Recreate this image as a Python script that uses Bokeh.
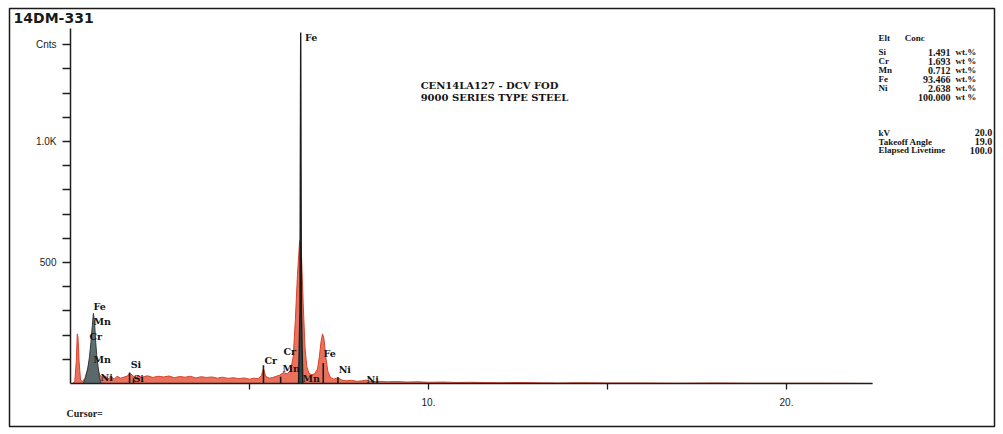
from bokeh.plotting import figure
from bokeh.models import Range1d, FixedTicker
from bokeh.core.properties import value
from bokeh.embed import file_html
from bokeh.resources import INLINE

# ---------------- data ----------------
red_kev = [0.05, 0.12, 0.16, 0.19, 0.21, 0.24, 0.28, 0.33, 0.40, 0.46,
           0.52, 0.58, 0.64, 0.70, 0.76, 0.82, 0.90, 0.98, 1.06, 1.14,
           1.22, 1.30, 1.40, 1.50, 1.58, 1.65, 1.72, 1.80, 1.90, 2.00,
           2.15, 2.30, 2.45, 2.60, 2.75, 2.90, 3.05, 3.20, 3.35, 3.50,
           3.65, 3.80, 3.95, 4.10, 4.25, 4.40, 4.55, 4.70, 4.85, 5.00,
           5.12, 5.24, 5.33, 5.39, 5.45, 5.55, 5.65, 5.75, 5.85, 5.95,
           6.05, 6.15, 6.22, 6.28, 6.34, 6.40, 6.45, 6.50, 6.55, 6.60,
           6.66, 6.74, 6.82, 6.90, 6.95, 7.00, 7.04, 7.08, 7.13, 7.19,
           7.26, 7.35, 7.47, 7.58, 7.70, 7.85, 8.00, 8.15, 8.26, 8.40,
           8.60, 8.85, 9.10, 9.40, 9.70, 10.0, 10.4, 10.8, 11.2, 11.6,
           12.0, 12.5, 13.0, 13.6, 14.2, 15.0, 16.0, 17.0, 18.0, 19.0,
           20.0, 21.0, 22.4]
red_cnt = [0, 8, 90, 205, 190, 90, 15, 8, 20, 50,
           80, 110, 130, 100, 60, 35, 22, 30, 20, 28,
           18, 30, 22, 27, 30, 42, 35, 24, 30, 26,
           32, 25, 30, 27, 31, 24, 29, 26, 30, 23,
           28, 25, 27, 22, 26, 21, 24, 20, 23, 18,
           22, 20, 32, 62, 30, 22, 25, 30, 35, 45,
           40, 55, 110, 260, 450, 590, 540, 330, 150, 70,
           42, 36, 40, 60, 110, 175, 205, 185, 110, 50,
           25, 18, 24, 14, 11, 13, 9, 11, 14, 8,
           9, 7, 8, 6, 7, 5, 6, 4, 5, 4,
           3, 4, 3, 2, 3, 2, 2, 1, 2, 1,
           1, 1, 0]

fel_kev = [0.36, 0.42, 0.48, 0.53, 0.57, 0.61, 0.64, 0.67, 0.70, 0.73, 0.77, 0.81, 0.85]
fel_cnt = [0, 25, 60, 110, 170, 240, 290, 255, 180, 120, 70, 25, 0]

feka_kev = [6.37, 6.41, 6.43, 6.45, 6.49]
feka_cnt = [0, 300, 1450, 300, 0]

marker_kev = [1.65, 1.76, 5.39, 5.87, 7.06, 7.47]
marker_cnt = [45, 22, 75, 28, 85, 26]

peak_text = ["Fe", "Fe", "Mn", "Cr", "Mn", "Ni", "Si", "Si",
             "Cr", "Cr", "Mn", "Mn", "Fe", "Ni", "Ni"]
peak_kev = [6.55, 0.64, 0.64, 0.53, 0.64, 0.84, 1.68, 1.76,
            5.42, 5.95, 5.92, 6.48, 7.07, 7.49, 8.27]
peak_cnt = [1428, 318, 256, 194, 99, 25, 79, 21,
            95, 132, 62, 21, 124, 58, 17]

x_ticks = [5, 10, 15, 20]
x_tick_labels = {5: "", 10: "10.", 15: "", 20: "20."}
y_ticks = [100, 200, 300, 400, 500, 600, 700, 800, 900, 1000, 1100, 1200, 1300, 1400]
y_tick_labels = {500: "500", 1000: "1.0K", 1400: "Cnts"}

elements = ["Si", "Cr", "Mn", "Fe", "Ni"]
conc = ["1.491", "1.693", "0.712", "93.466", "2.638"]
units = ["wt.%", "wt %", "wt.%", "wt.%", "wt.%"]
total_conc = "100.000"
params = ["kV", "Takeoff Angle", "Elapsed Livetime"]
param_vals = ["20.0", "19.0", "100.0"]

sample_lines = ["CEN14LA127 - DCV FOD", "9000 SERIES TYPE STEEL"]
title_text = "14DM-331"
cursor_text = "Cursor="

# ---------------- figure ----------------
# the plot frame is the outer ruled box; the axes sit inside it at fixed locations
p = figure(width=1003, height=434, output_backend="svg", toolbar_location=None,
           x_range=Range1d(-1.704, 25.81), y_range=Range1d(-177.7, 1549.6),
           min_border_left=9, min_border_right=9, min_border_top=8, min_border_bottom=8)
p.outline_line_color = "#1a1a1a"
p.outline_line_width = 1.5
p.xgrid.grid_line_color = None
p.ygrid.grid_line_color = None
p.background_fill_color = "white"
p.border_fill_color = "white"

AX = "#1e1e1e"
for ax in (p.xaxis[0], p.yaxis[0]):
    ax.fixed_location = 0
    ax.axis_line_color = AX
    ax.axis_line_width = 1.5
    ax.major_tick_line_color = AX
    ax.major_tick_line_width = 1.3
    ax.minor_tick_line_color = None
    ax.major_tick_in = 0
    ax.major_label_text_font = "Liberation Sans"
    ax.major_label_text_font_size = "10px"
    ax.major_label_text_color = "#222222"

p.xaxis.ticker = FixedTicker(ticks=x_ticks)
p.xaxis.major_label_overrides = x_tick_labels
p.xaxis.major_tick_out = 6
p.xaxis.major_label_standoff = 9
p.xaxis.bounds = (0, 22.4)

p.yaxis.ticker = FixedTicker(ticks=y_ticks)
p.yaxis.major_label_overrides = {t: y_tick_labels.get(t, "") for t in y_ticks}
p.yaxis.major_tick_out = 8
p.yaxis.major_label_standoff = 6
p.yaxis.bounds = (0, 1467)

# spectra
p.varea(x=red_kev, y1=0, y2=red_cnt, fill_color="#e6583f", fill_alpha=0.85)
p.line(red_kev, red_cnt, line_color="#d8432b", line_width=1)
p.varea(x=fel_kev, y1=0, y2=fel_cnt, fill_color="#53676a", fill_alpha=0.95)
p.line(fel_kev, fel_cnt, line_color="#2e3b3c", line_width=1)
p.varea(x=feka_kev, y1=0, y2=feka_cnt, fill_color="#3c4545")
p.line(feka_kev, feka_cnt, line_color="#1c1c1c", line_width=1.4)
p.segment(x0=marker_kev, y0=[0] * len(marker_kev), x1=marker_kev, y1=marker_cnt,
          line_color="#1c1c1c", line_width=1.6)

DSERIF = value("DejaVu Serif")
SERIF = value("Liberation Serif")
INK = "#151515"
p.text(x=peak_kev, y=peak_cnt, text=peak_text, text_font=DSERIF,
       text_font_size="9.5px", text_font_style="bold", text_color=INK,
       text_baseline="middle", text_align="left")

# header, sample description and cursor line
p.text(x=[-1.59], y=[1512], text=[title_text], text_font=value("DejaVu Sans"),
       text_font_size="14px", text_font_style="bold", text_color="#1a1a1a",
       text_baseline="middle")
p.text(x=[9.78, 9.78], y=[1231, 1182], text=sample_lines, text_font=DSERIF,
       text_font_size="10px", text_font_style="bold", text_color=INK,
       text_baseline="middle")
p.text(x=[-0.11], y=[-124], text=[cursor_text], text_font=SERIF,
       text_font_size="10px", text_font_style="bold", text_color="#1a1a1a",
       text_baseline="middle")

# right results panel
ROWS = [1368, 1331, 1294, 1257, 1220]
p.text(x=[22.57, 23.30], y=[1428, 1428], text=["Elt", "Conc"], text_font=SERIF,
       text_font_size="9px", text_font_style="bold", text_color=INK, text_baseline="middle")
p.text(x=[22.57] * 5, y=ROWS, text=elements, text_font=SERIF,
       text_font_size="9px", text_font_style="bold", text_color=INK, text_baseline="middle")
p.text(x=[24.58] * 6, y=ROWS + [1183], text=conc + [total_conc], text_font=SERIF,
       text_font_size="10px", text_font_style="bold", text_color=INK,
       text_baseline="middle", text_align="right")
p.text(x=[24.72] * 6, y=ROWS + [1183], text=units + ["wt %"], text_font=SERIF,
       text_font_size="9px", text_font_style="bold", text_color=INK, text_baseline="middle")
p.text(x=[22.57] * 3, y=[1037, 1000, 963], text=params, text_font=SERIF,
       text_font_size="9px", text_font_style="bold", text_color=INK, text_baseline="middle")
p.text(x=[25.75] * 3, y=[1037, 1000, 963], text=param_vals, text_font=SERIF,
       text_font_size="10px", text_font_style="bold", text_color=INK,
       text_baseline="middle", text_align="right")

open("out.html", "w").write(file_html(p, INLINE))
